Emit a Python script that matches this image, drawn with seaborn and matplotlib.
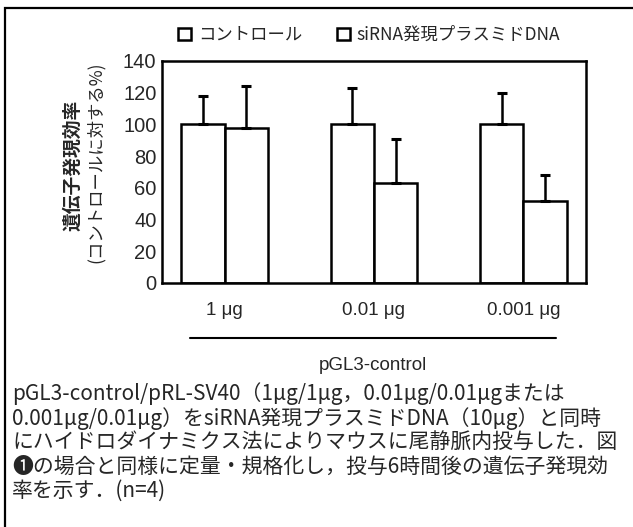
import numpy as np
import pandas as pd
import seaborn as sns
import matplotlib.pyplot as plt
from matplotlib.patches import Patch, Rectangle
from matplotlib.lines import Line2D

sns.set_style('white')
plt.rcParams['font.family'] = ['Noto Sans CJK JP', 'DejaVu Sans']

doses = ['1 μg', '0.01 μg', '0.001 μg']
groups = ['コントロール', 'siRNA発現プラスミドDNA']
control = [100, 100, 100]
control_err = [18, 23, 20]
sirna = [98, 63, 52]
sirna_err = [26, 28, 16]

caption = [
    'pGL3-control/pRL-SV40（1μg/1μg，0.01μg/0.01μgまたは',
    '0.001μg/0.01μg）をsiRNA発現プラスミドDNA（10μg）と同時',
    'にハイドロダイナミクス法によりマウスに尾静脈内投与した．図',
    '❶の場合と同様に定量・規格化し，投与6時間後の遺伝子発現効',
    '率を示す．(n=4)',
]

W, H = 633, 527
def fx(px):
    return px / W
def fy(py):
    return 1 - py / H

df = pd.DataFrame({
    'dose': doses * 2,
    'group': [groups[0]] * 3 + [groups[1]] * 3,
    'value': control + sirna,
})
errs = [control_err, sirna_err]
num_font = ['Liberation Sans', 'DejaVu Sans']

fig = plt.figure(figsize=(6.33, 5.27), dpi=100)
ax = fig.add_axes([fx(162), fy(283), fx(586) - fx(162), fy(61) - fy(283)])

sns.barplot(data=df, x='dose', y='value', hue='group', order=doses,
            hue_order=groups, palette=['white', 'white'], edgecolor='black',
            linewidth=1.8, width=0.58, gap=0, errorbar=None, legend=False,
            saturation=1, ax=ax)

# one-sided error bars from bar tops
for cont, err in zip(ax.containers, errs):
    for bar, e in zip(cont, err):
        xc = bar.get_x() + bar.get_width() / 2
        ax.errorbar(xc, bar.get_height(), yerr=[[0], [e]], fmt='none',
                    ecolor='black', elinewidth=1.8, capsize=3.5, capthick=2.2)

ax.set_ylim(0, 140)
ax.set_yticks(range(0, 141, 20))
ax.set_xlabel('')
ax.set_ylabel('')
for s in ax.spines.values():
    s.set_linewidth(1.8)
    s.set_color('black')
ax.tick_params(axis='y', direction='in', length=4, width=1.5, labelsize=14.5, pad=4)
ax.tick_params(axis='x', length=0, labelsize=13.5, pad=14)
for lab in ax.get_yticklabels() + ax.get_xticklabels():
    lab.set_family(num_font)

# y label, two lines
fig.text(fx(73), fy(165), '遺伝子発現効率', rotation=90, ha='center', va='center',
         fontsize=13.5, fontweight='bold')
fig.text(fx(96), fy(162), '(コントロールに対する%)', rotation=90, ha='center',
         va='center', fontsize=12.5)

# legend
handles = [Patch(facecolor='white', edgecolor='black', linewidth=1.8) for _ in groups]
fig.legend(handles, groups, loc='center', bbox_to_anchor=(fx(369), fy(35)), ncol=2,
           frameon=False, fontsize=12.5, handlelength=0.75, handleheight=0.75,
           handletextpad=0.4, columnspacing=2.0)

# group line and label
fig.add_artist(Line2D([fx(190), fx(556)], [fy(338), fy(338)], color='black', lw=1.5))
fig.text(fx(373), fy(365), 'pGL3-control', ha='center', va='center', fontsize=13.5,
         family=num_font)

# caption
for i, line in enumerate(caption):
    fig.text(fx(12), fy(394 + i * 24.2), line, ha='left', va='center', fontsize=15)

# outer frame
fig.add_artist(Rectangle((fx(5), -0.05), 1.1, fy(8) + 0.05, fill=False,
                         edgecolor='black', lw=1.6, transform=fig.transFigure))

fig.savefig('out.png', dpi=100)
